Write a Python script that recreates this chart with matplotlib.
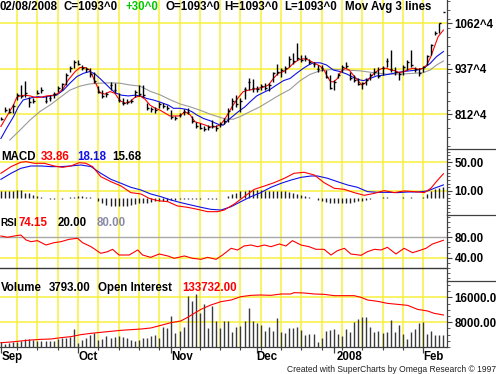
import matplotlib
matplotlib.use('Agg')
import matplotlib.pyplot as plt
from matplotlib.lines import Line2D
from matplotlib.ticker import MultipleLocator

plt.rcParams['font.family'] = ['Liberation Sans', 'DejaVu Sans']

# ---------------- data (bar index = trading day, 0 = 2007-09-04) ----------------
highs = [806, 832, 829, 840, 870, 893, 905, 861, 856, 879, 887, 863, 865, 875, 890, 899, 927, 945, 963, 963,
         948, 943, 941, 930, 890, 879, 875, 902, 899, 870, 856, 854, 854, 879, 893, 893, 843, 833, 832, 847,
         843, 838, 824, 808, 815, 826, 829, 808, 792, 788, 780, 783, 797, 783, 792, 801, 829, 856, 866, 856,
         888, 911, 909, 890, 896, 899, 899, 930, 951, 941, 945, 973, 982, 1009, 975, 975, 964, 957, 948, 948,
         934, 920, 907, 925, 948, 957, 930, 920, 911, 902, 911, 925, 939, 943, 945, 966, 989, 943, 930, 948,
         962, 989, 943, 939, 945, 975, 1007, 1040, 1064, 1093]
lows = [797, 820, 815, 815, 852, 856, 859, 833, 843, 868, 870, 844, 850, 856, 875, 879, 893, 930, 939, 948,
        934, 930, 916, 899, 870, 856, 859, 879, 872, 847, 838, 841, 843, 859, 863, 859, 824, 820, 817, 829,
        829, 824, 799, 797, 804, 811, 813, 788, 774, 771, 768, 769, 774, 768, 777, 786, 792, 824, 833, 820,
        854, 879, 875, 875, 879, 879, 877, 902, 920, 916, 925, 943, 952, 962, 957, 958, 950, 943, 930, 932,
        911, 881, 879, 911, 930, 939, 907, 902, 893, 881, 893, 907, 920, 911, 920, 943, 930, 920, 907, 920,
        934, 943, 930, 918, 930, 948, 975, 1030, 1035, 1093]
closes = [800, 825, 820, 835, 865, 862, 870, 845, 850, 872, 880, 850, 856, 868, 884, 895, 920, 940, 955, 952,
          940, 936, 922, 905, 874, 862, 868, 894, 880, 852, 844, 846, 850, 874, 868, 866, 830, 826, 825, 842,
          836, 830, 804, 803, 810, 820, 818, 794, 780, 776, 772, 778, 780, 774, 786, 795, 822, 850, 840, 850,
          882, 902, 884, 882, 890, 884, 894, 925, 930, 934, 940, 965, 960, 968, 962, 968, 955, 950, 936, 940,
          915, 886, 900, 920, 942, 944, 912, 908, 897, 898, 906, 920, 930, 918, 940, 960, 936, 928, 924, 942,
          955, 948, 936, 925, 942, 972, 1002, 1035, 1063, 1093]

ma_fast_x = [0, 1.4, 3.1, 3.9, 4.7, 5.9, 7.2, 8.4, 9.6, 11.3, 12.9, 14.1, 15.4, 16.6, 18.3, 19.5, 20.7, 21.9,
             23.2, 24.4, 25.6, 26.9, 28.1, 29.3, 30.6, 31.8, 33, 34.3, 35.5, 36.7, 38, 39.2, 41.6, 42.9, 44.1,
             45.3, 46.6, 47.8, 49, 50.3, 51.5, 52.7, 54, 55, 56, 57.2, 58.5, 59.7, 61, 62.2, 63.4, 64.6, 65.9,
             67.1, 68.3, 69.6, 70.8, 72, 73.3, 74.5, 75.7, 77.4, 78.6, 79.6, 80.4, 81.2, 82, 82.9, 83.7, 84.8,
             85.8, 86.8, 87.8, 88.9, 89.7, 90.7, 91.9, 93, 94, 95, 96, 97.1, 98.1, 99.3, 100.4, 101.6, 102.8,
             103.9, 104.9, 105.9, 106.9, 107.7, 109]
ma_fast = [779, 806, 838, 859, 863, 865, 863, 859, 859, 863, 865, 870, 884, 907, 930, 941, 941, 934,
           902, 872, 868, 875, 870, 850, 843, 847, 859, 863, 854, 838, 829, 824, 808, 808, 808,
           820, 811, 792, 788, 783, 778, 778, 783, 797, 815, 838, 859, 875, 879, 881, 884, 887, 893,
           911, 925, 930, 939, 952, 962, 965, 962, 952, 945, 934, 916, 902, 902, 911, 930, 939,
           934, 920, 907, 893, 898, 911, 925, 934, 939, 939, 934, 932, 927, 930, 936, 939, 936,
           939, 948, 971, 1002, 1026, 1044]

ma_mid_x = [0, 1.4, 3.1, 4.3, 5.5, 6.8, 8, 9.2, 10.5, 12.1, 13.7, 15.4, 17, 18.7, 20.3, 21.9, 23.2, 24.4,
            25.6, 26.9, 28.1, 29.7, 31.4, 33, 34.3, 35.9, 37.5, 39.2, 40.4, 41.2, 42.5, 44.1, 45.7, 47, 48.2,
            49.9, 51.5, 52.7, 54, 54.8, 56, 57.2, 58.5, 60.1, 61.4, 63, 64.6, 66.3, 67.9, 69.6, 71.2, 72.8,
            74.5, 75.8, 77, 78.6, 80.2, 81.9, 83.5, 85.2, 86.8, 88.4, 89.3, 90.9, 92.6, 94.2, 95.8, 97.5,
            99.1, 100.8, 102.4, 104.1, 105.7, 107.3, 109]
ma_mid = [746, 774, 806, 833, 852, 856, 859, 861, 859, 863, 865, 879, 898, 916, 925, 930, 923, 911,
          898, 884, 872, 865, 863, 865, 863, 856, 852, 846, 841, 838, 829, 829, 826, 820, 811,
          801, 795, 789, 783, 783, 797, 808, 820, 833, 847, 863, 872, 881, 893, 905, 911, 925,
          939, 948, 954, 954, 948, 934, 930, 923, 914, 907, 905, 911, 918, 920, 923, 927,
          930, 932, 934, 939, 952, 971, 985]

ma_slow_x = [2.2, 4.7, 7.2, 9.6, 12.1, 14.6, 17, 19.5, 21.9, 24.4, 26.9, 29.3, 31.8, 34.3, 36.7, 39.2, 41.6,
             44.1, 46.6, 49, 51.5, 54, 55.6, 57.2, 58.9, 61.4, 63.8, 66.3, 68.7, 71.2, 73.7, 76.1, 78.6,
             81.9, 85.2, 88.4, 91.7, 95, 98.3, 101.6, 104, 105.7, 107.3, 109]
ma_slow = [742, 769, 797, 820, 838, 859, 879, 890, 896, 898, 899, 898, 893, 890, 876, 866, 853,
           841, 833, 824, 813, 804, 799, 799, 806, 820, 833, 850, 866, 881, 905, 922, 932,
           936, 934, 932, 927, 923, 923, 925, 927, 934, 948, 959]

macd_x = [0, 2.5, 4.9, 6.2, 8.2, 10.7, 13.1, 15.2, 17.2, 19.3, 20.9, 22.6, 24.6, 27.1, 29.6, 32.0, 34.5,
          36.5, 38.6, 41.1, 43.5, 46.0, 48.4, 50.9, 53.4, 55.0, 57.5, 59.9, 62.4, 64.9, 67.3, 69.8, 72.2,
          74.7, 77.2, 79.6, 82.1, 84.6, 87.0, 89.5, 92.0, 94.4, 96.9, 99.3, 101.8, 104.3, 105.9, 107.6, 109]
macd = [34.5, 43.9, 50.0, 50.9, 48.6, 48.6, 44.8, 42.9, 44.8, 49.5, 48.6, 43.9, 29.8, 22.7, 16.6, 7.3, 5.4,
        -0.7, -4.0, -5.4, -11.5, -13.4, -16.2, -19.5, -19.5, -17.2, -8.7, 1.6, 11.9, 16.6, 21.3, 27.4, 34.5,
        35.9, 32.1, 21.3, 13.4, 11.9, 7.3, 3.5, 6.3, 10.1, 7.3, 9.6, 8.7, 7.3, 13.4, 25.1, 33.86]
signal_x = [0, 2.5, 4.9, 7.4, 9.9, 12.3, 14.8, 17.2, 19.7, 22.2, 24.6, 27.1, 29.6, 32.0, 34.5, 36.9, 39.4,
            41.9, 44.3, 46.8, 49.3, 51.7, 54.2, 56.7, 59.1, 61.6, 64.0, 66.5, 69.0, 71.4, 73.9, 76.4, 78.0,
            80.5, 82.9, 85.4, 87.8, 90.3, 92.8, 95.2, 97.7, 100.2, 102.6, 105.1, 106.7, 109]
signal = [26, 34.5, 41.5, 44.8, 44.8, 43.9, 43.9, 44.8, 46.2, 43.9, 34.5, 26, 20.4, 14.8, 11, 5.4, 1.6,
          -3.1, -6.8, -10.1, -13.4, -16.2, -17.2, -12.5, -5.4, 1.6, 7.3, 14.8, 20.4, 24.9, 28.8, 30.7, 30.7,
          27.4, 22.7, 18, 14.8, 8.7, 7.7, 7.7, 7.3, 8.2, 8.2, 9.6, 13.4, 18.18]
hist = [9, 9, 10, 10, 11, 11, 7, 7, 4, 3, 1,
        -0.5, -1, -1, -0.5, -1, -0.5,
        1, 1.5, 2, 2, 1.5, 1, 0,
        -5, -8, -10, -11, -12, -12, -11, -11, -10, -9, -8,
        -7, -7, -6, -5, -5, -4, -4, -3, -3, -2,
        -1, -1, -1.5, -1, -1, -0.5, -1, -1, -1, -0.5, 0,
        3, 5, 7, 9, 10, 11, 11, 11, 11, 10, 10, 10, 10, 9, 9, 8, 7,
        6, 4, 3, 1, 0,
        -3, -5, -6, -7, -8, -8, -8, -7, -7, -6, -5, -4, -3,
        -1, -0.5, 0, 0.5, 0.5, 0, -0.5, 0, 0.5, 0, 0.5, 0, -0.5, 0.5,
        5, 9, 12, 14, 15.68]

rsi_x = [0, 1.6, 3.3, 4.9, 6.2, 7.4, 9.0, 11.1, 13.1, 14.8, 16.8, 18.9, 20.1, 22.2, 24.6, 26.3, 27.5, 29.1,
         31.6, 33.7, 34.9, 36.9, 39.0, 41.1, 42.7, 45.2, 47.2, 49.3, 50.9, 53.0, 54.6, 56.7, 58.3, 59.9, 61.6,
         63.2, 64.9, 66.5, 68.6, 70.2, 71.8, 73.9, 75.9, 77.6, 79.6, 81.3, 82.9, 84.6, 86.2, 88.7, 90.3, 92.0,
         93.6, 95.2, 97.3, 99.3, 101.4, 103.0, 104.7, 106.3, 109]
rsi = [82.6, 80, 82.6, 84.5, 74.7, 71.4, 73.4, 64.8, 69.4, 71.4, 76, 78, 69.4, 61.5, 48.4, 51.7, 56.3, 45.1,
       45.1, 55, 45.1, 40.5, 47.1, 43.2, 38.6, 43.2, 38.6, 36.6, 40.5, 36.6, 45.1, 58.3, 55, 62.9, 64.8,
       61.5, 64.8, 61.5, 66.8, 62.9, 73.4, 64.8, 61.5, 56.3, 56.3, 45.1, 53.7, 58.3, 47.1, 44.5, 51.7, 56.3,
       55, 60.2, 47.1, 58.3, 49.7, 53.7, 58.3, 66.8, 74.15]

volume = [1700, 1000, 1300, 1500, 1700, 2000, 2440, 2440, 2150, 2000, 2000, 2000, 2000, 2000, 2440, 2790,
          2790, 3330, 5690, 1290, 2150, 3010, 3880, 4400, 2150, 2440, 3540, 2790, 3330, 3540, 3330, 3010,
          2150, 2000, 2150, 3010, 3010, 3540, 3880, 3010, 6550, 6010, 9980, 4400, 5260, 6330, 16420, 14910,
          17070, 11000, 13870, 6010, 13200, 8470, 6010, 8470, 8470, 4940, 6550, 6760, 8470, 12450, 8470,
          7620, 7080, 5260, 6330, 5260, 9240, 4940, 4400, 6220, 6010, 6550, 5470, 3860, 4190, 4190, 1720,
          2790, 5260, 5470, 5690, 4190, 3540, 5690, 4940, 8160, 8910, 9770, 9550, 6550, 4940, 5260, 4400,
          4940, 8690, 4940, 7080, 4190, 2470, 4940, 5690, 7840, 8160, 4190, 5260, 3860, 3860, 3793]

oi_x = [0, 2.5, 4.9, 7.4, 9.9, 12.3, 14.8, 17.2, 19.7, 22.2, 24.6, 27.1, 29.6, 32.0, 34.5, 36.9, 39.4,
        41.9, 44.3, 46.0, 47.6, 49.3, 51.7, 54.2, 56.7, 59.1, 61.6, 64.0, 66.5, 69.0, 71.4, 72.2, 74.7,
        77.2, 79.6, 82.1, 84.6, 87.0, 88.7, 90.3, 92.8, 95.2, 97.7, 100.2, 102.6, 105.1, 106.7, 109]
open_interest = [18000, 20900, 25100, 29300, 32000, 33400, 39000, 43200, 51600, 57100, 61300, 65500,
                 69700, 72400, 75200, 79400, 90500, 101700, 108700, 124000, 140700, 157400, 175500,
                 189500, 196400, 210300, 215900, 217300, 215900, 221500, 221500, 227100, 225700,
                 221500, 220100, 214500, 214500, 214500, 207500, 196400, 190800, 182400, 178200,
                 174000, 157400, 150400, 140700, 133732]

month_idx = [0, 19, 42, 63, 82, 104]
month_labels = ['Sep', 'Oct', 'Nov', 'Dec', '2008', 'Feb']
week_idx = list(range(4, 105, 5))

price_ticks = [1062.5, 937.5, 812.5]
price_labels = ['1062^4', '937^4', '812^4']

# ---------------- layout ----------------
W, H = 496, 374
fig = plt.figure(figsize=(W / 100, H / 100), dpi=100)
fig.patch.set_facecolor('white')
AXR = 446.5
YEL = '#f6f03a'
AXC = '#404040'
RED = '#ff0000'
BLUE = '#1010e8'
GRAY = '#9a9a9a'
XLIM = (-0.22, 109.75)
FS = 8.3


def rect(top, bot):
    return [0, 1 - bot / H, AXR / W, (bot - top) / H]


def setup(ax, ylim, ticks, labels, minor):
    ax.set_xlim(*XLIM)
    ax.set_ylim(*ylim)
    ax.set_facecolor('none')
    for s in ['left', 'top', 'bottom']:
        ax.spines[s].set_visible(False)
    ax.spines['right'].set_color(AXC)
    ax.spines['right'].set_linewidth(0.9)
    ax.yaxis.tick_right()
    ax.set_yticks(ticks, labels, fontweight='bold', fontsize=FS)
    ax.yaxis.set_minor_locator(MultipleLocator(minor))
    ax.tick_params(axis='y', which='major', direction='out', length=3.5, width=0.8,
                   pad=2.2, colors=AXC, labelcolor='black')
    ax.tick_params(axis='y', which='minor', direction='out', length=2, width=0.6, colors=AXC)
    ax.tick_params(axis='x', which='both', bottom=False, labelbottom=False)
    for w in week_idx:
        ax.axvline(w, color=YEL, lw=1.1, zorder=0)


# price panel
axp = fig.add_axes(rect(0, 149))
setup(axp, (717.2, 1126.5), price_ticks, price_labels, 25)
for t in price_ticks:
    axp.axhline(t, color=YEL, lw=1.1, zorder=0)
axp.plot(ma_slow_x, ma_slow, color=GRAY, lw=0.8, zorder=2)
axp.plot(ma_mid_x, ma_mid, color=BLUE, lw=0.8, zorder=2)
axp.plot(ma_fast_x, ma_fast, color=RED, lw=0.8, zorder=2)
idx = list(range(len(highs)))
axp.vlines(idx, lows, highs, color='black', lw=1.0, zorder=3)
axp.hlines(closes, [i - 0.05 for i in idx], [i + 0.45 for i in idx], color='black', lw=1.0, zorder=3)

# MACD panel
axm = fig.add_axes(rect(149, 215))
setup(axm, (-24.2, 68.7), [50, 10], ['50.00', '10.00'], 5)
for t in [50, 10]:
    axm.axhline(t, color=YEL, lw=1.1, zorder=0)
axm.vlines(list(range(len(hist))), 0, hist, color='#202020', lw=1.0, zorder=2)
axm.plot(signal_x, signal, color=BLUE, lw=0.8, zorder=3)
axm.plot(macd_x, macd, color=RED, lw=0.8, zorder=3)

# RSI panel
axr = fig.add_axes(rect(215, 281))
setup(axr, (-6.1, 123.9), [80, 40], ['80.00', '40.00'], 10)
axr.axhline(40, color=YEL, lw=1.1, zorder=0)
axr.axhline(80, color='#a8a8a8', lw=1.0, zorder=1)
axr.axhline(20, color='#383838', lw=1.0, zorder=1)
axr.plot(rsi_x, rsi, color=RED, lw=0.8, zorder=3)

# Volume panel
axv = fig.add_axes(rect(281, 347))
setup(axv, (0, 21250), [16000, 8000], ['16000.00', '8000.00'], 2000)
for t in [16000, 8000]:
    axv.axhline(t, color=YEL, lw=1.1, zorder=0)
axv.vlines(list(range(len(volume))), 0, volume, color='#3a3a3a', lw=1.0, zorder=2)
axv.spines['bottom'].set_visible(True)
axv.spines['bottom'].set_color(AXC)
axv.spines['bottom'].set_linewidth(0.9)
axv.set_xticks(month_idx, [''] * len(month_idx))
axv.set_xticks(week_idx, minor=True)
axv.tick_params(axis='x', which='major', bottom=True, direction='out', length=4, width=0.9, colors=AXC)
axv.tick_params(axis='x', which='minor', bottom=True, direction='out', length=2, width=0.8, colors=AXC)

axo = fig.add_axes(rect(281, 347))
axo.set_xlim(*XLIM)
axo.set_ylim(0, 275800)
axo.axis('off')
axo.plot(oi_x, open_interest, color=RED, lw=0.8)

# right-side separators
for yy in [149, 215, 281]:
    fig.add_artist(Line2D([AXR / W, 1], [1 - yy / H, 1 - yy / H], color=AXC, lw=0.9))


def ptext(x, y, s, color='black', size=FS, weight='bold'):
    fig.text(x / W, 1 - y / H, s, color=color, fontsize=size, fontweight=weight,
             ha='left', va='baseline')


# header
for x, s, c in [(0, '02/08/2008', 'black'), (63.3, 'C=1093^0', 'black'), (125, '+30^0', '#00c800'),
                (165.7, 'O=1093^0', 'black'), (224, 'H=1093^0', 'black'), (284.3, 'L=1093^0', 'black'),
                (345, 'Mov Avg 3 lines', 'black')]:
    ptext(x, 10, s, c)

for x, s, c in [(1.2, 'MACD', 'black'), (41, '33.86', RED), (77.3, '18.18', BLUE), (112.7, '15.68', 'black')]:
    ptext(x, 160, s, c)
ptext(0.8, 225.7, 'RSI', 'black', size=7.2)
for x, s, c in [(18.3, '74.15', RED), (57.2, '20.00', 'black'), (96.7, '80.00', '#8a8aa6')]:
    ptext(x, 225.7, s, c)
for x, s, c in [(1.2, 'Volume', 'black'), (49, '3793.00', 'black'), (98.3, 'Open Interest', 'black'),
                (182.7, '133732.00', RED)]:
    ptext(x, 291, s, c)

for x, s in zip([1.2, 78.5, 171.2, 256.2, 336.2, 422.8], month_labels):
    ptext(x, 360, s)

ptext(287.3, 372, 'Created with SuperCharts by Omega Research \u00a9 1997', color='#202020', size=6.15,
      weight='normal')

fig.savefig('out.png', dpi=100, facecolor='white')
